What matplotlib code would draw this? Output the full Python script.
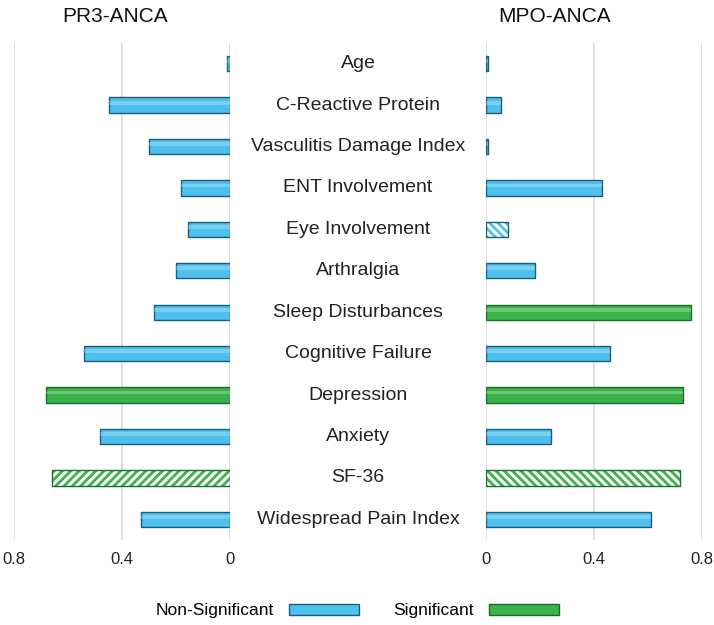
import matplotlib
matplotlib.use("Agg")
import matplotlib.pyplot as plt
from matplotlib.patches import Patch
from matplotlib import transforms

plt.rcParams['font.family'] = ['Liberation Sans', 'DejaVu Sans']
plt.rcParams['hatch.linewidth'] = 2.0

categories = ["Age", "C-Reactive Protein", "Vasculitis Damage Index", "ENT Involvement",
              "Eye Involvement", "Arthralgia", "Sleep Disturbances", "Cognitive Failure",
              "Depression", "Anxiety", "SF-36", "Widespread Pain Index"]

pr3_values = [0.011, 0.45, 0.30, 0.18, 0.155, 0.20, 0.28, 0.54, 0.68, 0.48, 0.66, 0.33]
pr3_significant = [False, False, False, False, False, False, False, False, True, False, True, False]
pr3_hatched = [False, False, False, False, False, False, False, False, False, False, True, False]

mpo_values = [0.007, 0.055, 0.007, 0.43, 0.08, 0.18, 0.76, 0.46, 0.73, 0.24, 0.72, 0.61]
mpo_significant = [False, False, False, False, False, False, True, False, True, False, True, False]
mpo_hatched = [False, False, False, False, True, False, False, False, False, False, True, False]

tick_values = [0, 0.4, 0.8]
tick_labels = ["0", "0.4", "0.8"]

BLUE = "#4DC0EE"
BLUE_EDGE = "#1E5D78"
GREEN = "#3BB34A"
GREEN_EDGE = "#1D6A2A"

fig = plt.figure(figsize=(7.14, 6.25), dpi=100)
W, H = 714, 625
bottom = 1 - 540 / H
top = 1 - 43 / H
axL = fig.add_axes([14 / W, bottom, 216 / W, top - bottom])
axR = fig.add_axes([486 / W, bottom, 216 / W, top - bottom])

def draw(ax, values, sig, hat, hatch_pat):
    y = list(range(len(categories)))
    for i, (v, s, h) in enumerate(zip(values, sig, hat)):
        base = GREEN if s else BLUE
        edge = GREEN_EDGE if s else BLUE_EDGE
        if h:
            ax.barh(y[i], v, height=0.37, color="white", edgecolor=base,
                    hatch=hatch_pat, linewidth=0, zorder=3)
            ax.barh(y[i], v, height=0.37, color="none", edgecolor=edge,
                    linewidth=1.0, zorder=4)
        else:
            ax.barh(y[i], v, height=0.37, color=base, edgecolor=edge,
                    linewidth=1.0, zorder=3)
            ax.barh(y[i] - 0.06, v, height=0.09, color="white", alpha=0.25,
                    linewidth=0, zorder=4)
    ax.set_xlim(0, 0.8)
    ax.set_ylim(len(categories) - 0.5, -0.5)
    ax.set_yticks([])
    ax.set_xticks(tick_values)
    ax.set_xticklabels(tick_labels, fontsize=12, color="#222222")
    ax.tick_params(axis='x', length=0, pad=9)
    ax.grid(axis='x', color="#d9d9d9", linewidth=1.2, zorder=0)
    for sp in ax.spines.values():
        sp.set_visible(False)

draw(axL, pr3_values, pr3_significant, pr3_hatched, "////")
axL.invert_xaxis()
draw(axR, mpo_values, mpo_significant, mpo_hatched, "\\\\\\\\")

fig.text(115 / W, 1 - 17 / H, "PR3-ANCA", ha="center", va="center", fontsize=15, color="#111111")
fig.text(555 / W, 1 - 17 / H, "MPO-ANCA", ha="center", va="center", fontsize=15, color="#111111")

trans = transforms.blended_transform_factory(fig.transFigure, axR.transData)
for i, c in enumerate(categories):
    fig.text(358 / W, i, c, transform=trans, ha="center", va="center",
             fontsize=14, color="#222222")

handles = [Patch(facecolor=BLUE, edgecolor=BLUE_EDGE, linewidth=1.0),
           Patch(facecolor=GREEN, edgecolor=GREEN_EDGE, linewidth=1.0)]
fig.legend(handles, ["Non-Significant", "Significant"], loc="center",
           bbox_to_anchor=(357 / W, 1 - 611 / H), ncol=2, frameon=False,
           markerfirst=False, fontsize=12.5, handlelength=4.0, handleheight=0.6,
           columnspacing=2.0, handletextpad=0.9)

fig.savefig("out.png", dpi=100)
